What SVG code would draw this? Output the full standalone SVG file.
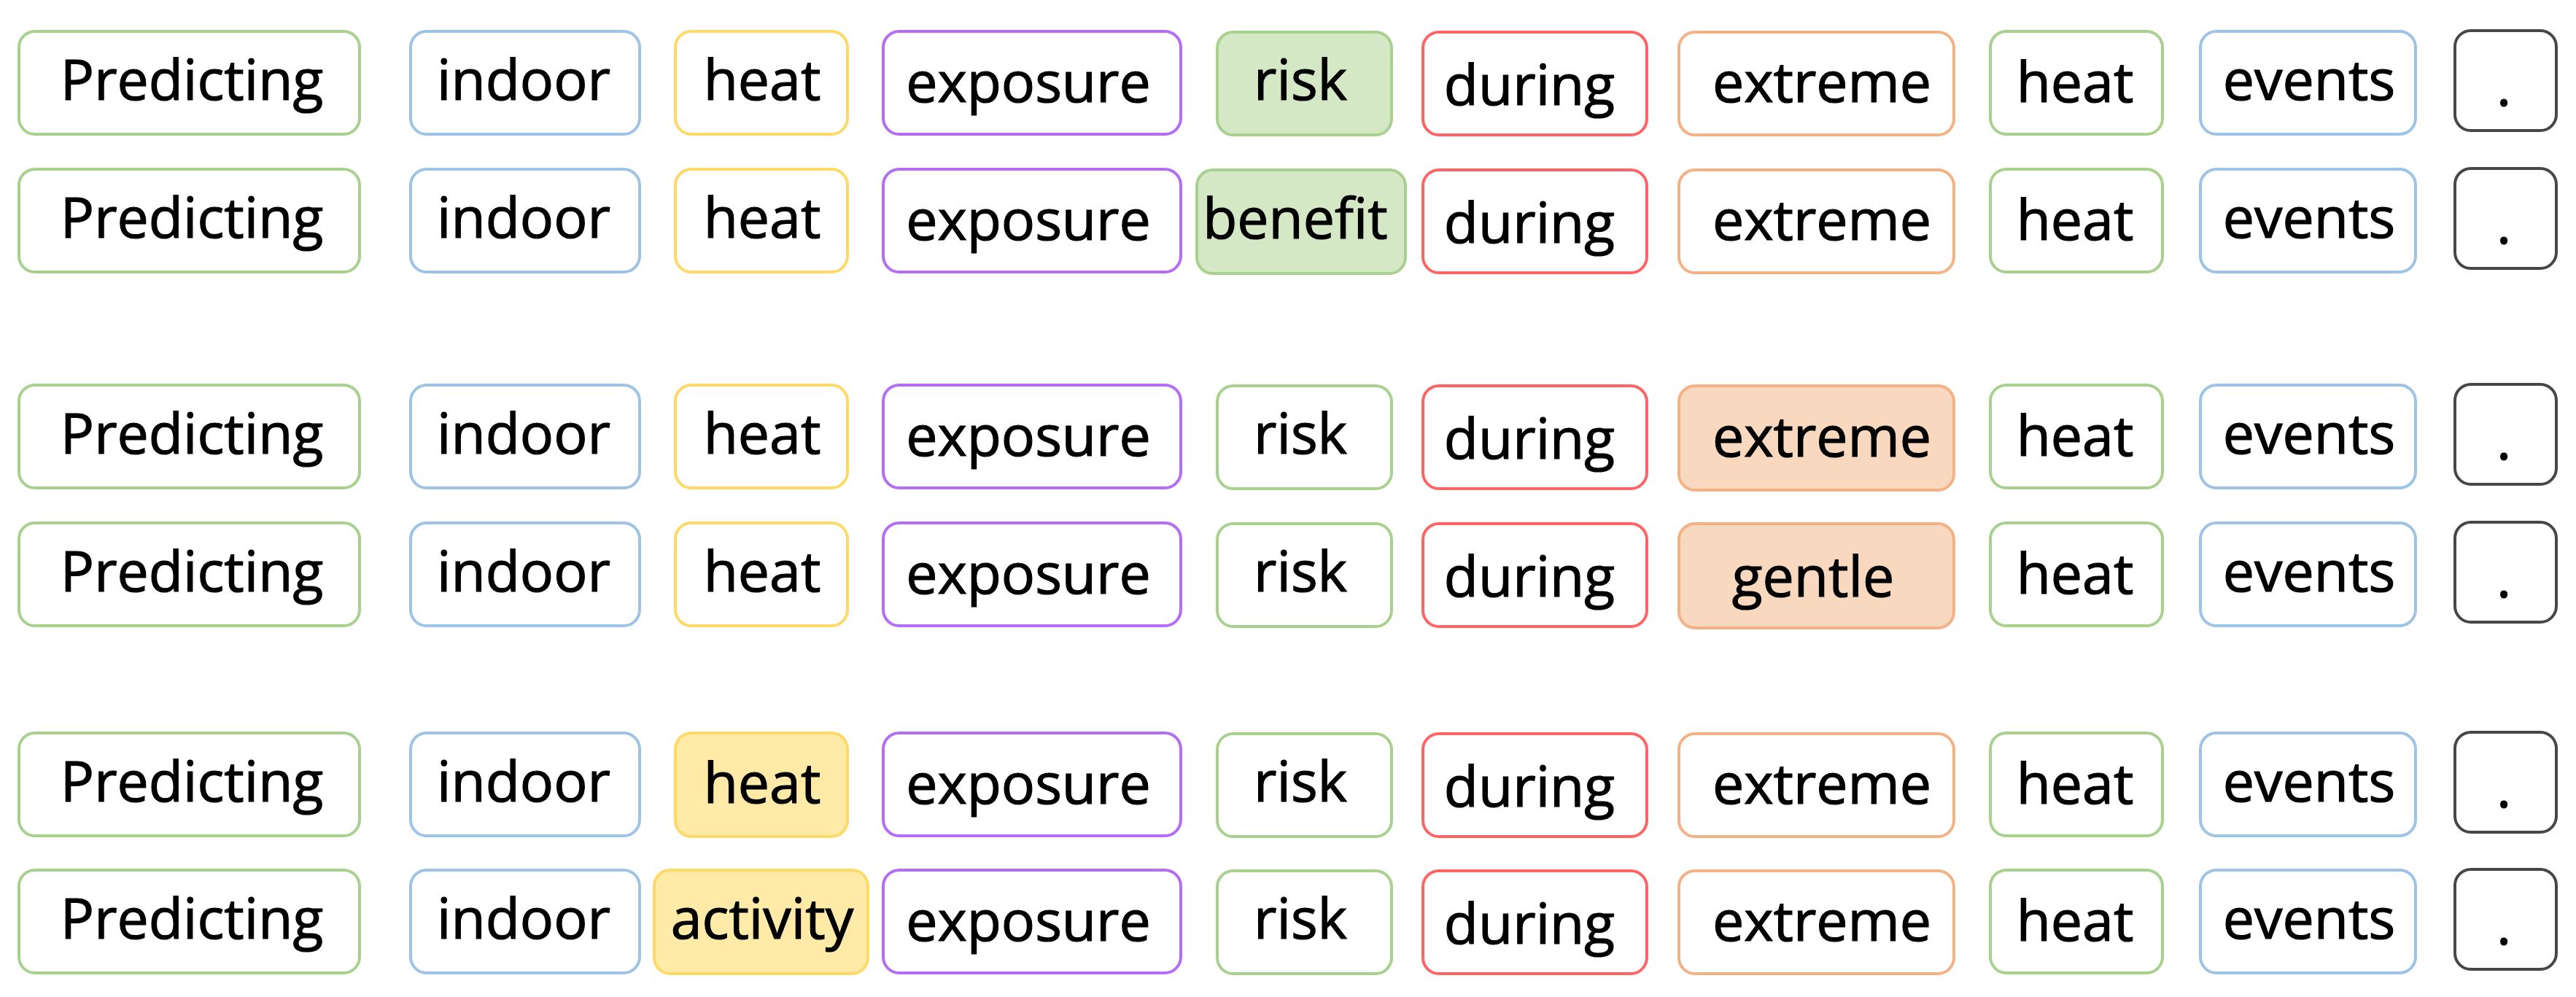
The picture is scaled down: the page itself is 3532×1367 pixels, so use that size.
<svg xmlns="http://www.w3.org/2000/svg" width="3532" height="1367" viewBox="0 0 3532 1367">
<style>
rect{stroke-width:4;fill:#fff}
.g{stroke:#A9D18E}.b{stroke:#9DC3E6}.y{stroke:#FFD966}.p{stroke:#B36DF7}.r{stroke:#FF6464}.o{stroke:#F4B183}.k{stroke:#474747}
rect.gf{fill:#D5E8C6}rect.of{fill:#F9D8C0}rect.yf{fill:#FFEAA8}
text{font-family:"Open Sans","Noto Sans","Liberation Sans",sans-serif;font-size:77px;fill:#000;stroke:#000;stroke-width:1.2;text-anchor:middle}
</style>
<rect x="0" y="0" width="3532" height="1367" style="fill:#fff;stroke:none"/>
<!-- Row 1 -->
<g id="r1-predicting"><rect class="g" x="26" y="43" width="467" height="141" rx="22"/><text x="263" y="137">Predicting</text></g>
<g id="r1-indoor"><rect class="b" x="563" y="43" width="314" height="141" rx="22"/><text x="718" y="137">indoor</text></g>
<g id="r1-heat"><rect class="y" x="926" y="43" width="236" height="141" rx="22"/><text x="1045" y="137">heat</text></g>
<g id="r1-exposure"><rect class="p" x="1211" y="43" width="408" height="141" rx="22"/><text x="1410" y="140">exposure</text></g>
<g id="r1-risk"><rect class="g gf" x="1669" y="44" width="239" height="141" rx="22"/><text x="1783" y="137">risk</text></g>
<g id="r1-during"><rect class="r" x="1951" y="44" width="307" height="141" rx="22"/><text x="2097" y="144">during</text></g>
<g id="r1-extreme"><rect class="o" x="2302" y="44" width="377" height="141" rx="22"/><text x="2498" y="140">extreme</text></g>
<g id="r1-heat2"><rect class="g" x="2729" y="43" width="236" height="141" rx="22"/><text x="2845" y="140">heat</text></g>
<g id="r1-events"><rect class="b" x="3017" y="43" width="295" height="141" rx="22"/><text x="3166" y="137">events</text></g>
<g id="r1-period"><rect class="k" x="3366" y="42" width="139" height="137" rx="22"/><text x="3433" y="145">.</text></g>
<!-- Row 2 -->
<g id="r2-predicting"><rect class="g" x="26" y="232" width="467" height="141" rx="22"/><text x="263" y="326">Predicting</text></g>
<g id="r2-indoor"><rect class="b" x="563" y="232" width="314" height="141" rx="22"/><text x="718" y="326">indoor</text></g>
<g id="r2-heat"><rect class="y" x="926" y="232" width="236" height="141" rx="22"/><text x="1045" y="326">heat</text></g>
<g id="r2-exposure"><rect class="p" x="1211" y="232" width="408" height="141" rx="22"/><text x="1410" y="329">exposure</text></g>
<g id="r2-benefit"><rect class="g gf" x="1641" y="233" width="286" height="142" rx="22"/><text x="1776" y="327">benefit</text></g>
<g id="r2-during"><rect class="r" x="1951" y="233" width="307" height="141" rx="22"/><text x="2097" y="333">during</text></g>
<g id="r2-extreme"><rect class="o" x="2302" y="233" width="377" height="141" rx="22"/><text x="2498" y="329">extreme</text></g>
<g id="r2-heat2"><rect class="g" x="2729" y="232" width="236" height="141" rx="22"/><text x="2845" y="329">heat</text></g>
<g id="r2-events"><rect class="b" x="3017" y="232" width="295" height="141" rx="22"/><text x="3166" y="326">events</text></g>
<g id="r2-period"><rect class="k" x="3366" y="231" width="139" height="137" rx="22"/><text x="3433" y="334">.</text></g>
<!-- Row 3 -->
<g id="r3-predicting"><rect class="g" x="26" y="528" width="467" height="141" rx="22"/><text x="263" y="622">Predicting</text></g>
<g id="r3-indoor"><rect class="b" x="563" y="528" width="314" height="141" rx="22"/><text x="718" y="622">indoor</text></g>
<g id="r3-heat"><rect class="y" x="926" y="528" width="236" height="141" rx="22"/><text x="1045" y="622">heat</text></g>
<g id="r3-exposure"><rect class="p" x="1211" y="528" width="408" height="141" rx="22"/><text x="1410" y="625">exposure</text></g>
<g id="r3-risk"><rect class="g" x="1669" y="529" width="239" height="141" rx="22"/><text x="1783" y="622">risk</text></g>
<g id="r3-during"><rect class="r" x="1951" y="529" width="307" height="141" rx="22"/><text x="2097" y="629">during</text></g>
<g id="r3-extreme"><rect class="o of" x="2302" y="529" width="377" height="143" rx="22"/><text x="2498" y="626">extreme</text></g>
<g id="r3-heat2"><rect class="g" x="2729" y="528" width="236" height="141" rx="22"/><text x="2845" y="625">heat</text></g>
<g id="r3-events"><rect class="b" x="3017" y="528" width="295" height="141" rx="22"/><text x="3166" y="622">events</text></g>
<g id="r3-period"><rect class="k" x="3366" y="527" width="139" height="137" rx="22"/><text x="3433" y="630">.</text></g>
<!-- Row 4 -->
<g id="r4-predicting"><rect class="g" x="26" y="717" width="467" height="141" rx="22"/><text x="263" y="811">Predicting</text></g>
<g id="r4-indoor"><rect class="b" x="563" y="717" width="314" height="141" rx="22"/><text x="718" y="811">indoor</text></g>
<g id="r4-heat"><rect class="y" x="926" y="717" width="236" height="141" rx="22"/><text x="1045" y="811">heat</text></g>
<g id="r4-exposure"><rect class="p" x="1211" y="717" width="408" height="141" rx="22"/><text x="1410" y="814">exposure</text></g>
<g id="r4-risk"><rect class="g" x="1669" y="718" width="239" height="141" rx="22"/><text x="1783" y="811">risk</text></g>
<g id="r4-during"><rect class="r" x="1951" y="718" width="307" height="141" rx="22"/><text x="2097" y="818">during</text></g>
<g id="r4-gentle"><rect class="o of" x="2302" y="718" width="377" height="143" rx="22"/><text x="2486" y="818">gentle</text></g>
<g id="r4-heat2"><rect class="g" x="2729" y="717" width="236" height="141" rx="22"/><text x="2845" y="814">heat</text></g>
<g id="r4-events"><rect class="b" x="3017" y="717" width="295" height="141" rx="22"/><text x="3166" y="811">events</text></g>
<g id="r4-period"><rect class="k" x="3366" y="716" width="139" height="137" rx="22"/><text x="3433" y="819">.</text></g>
<!-- Row 5 -->
<g id="r5-predicting"><rect class="g" x="26" y="1005" width="467" height="141" rx="22"/><text x="263" y="1099">Predicting</text></g>
<g id="r5-indoor"><rect class="b" x="563" y="1005" width="314" height="141" rx="22"/><text x="718" y="1099">indoor</text></g>
<g id="r5-heat"><rect class="y yf" x="926" y="1005" width="236" height="142" rx="22"/><text x="1045" y="1101">heat</text></g>
<g id="r5-exposure"><rect class="p" x="1211" y="1005" width="408" height="141" rx="22"/><text x="1410" y="1102">exposure</text></g>
<g id="r5-risk"><rect class="g" x="1669" y="1006" width="239" height="141" rx="22"/><text x="1783" y="1099">risk</text></g>
<g id="r5-during"><rect class="r" x="1951" y="1006" width="307" height="141" rx="22"/><text x="2097" y="1106">during</text></g>
<g id="r5-extreme"><rect class="o" x="2302" y="1006" width="377" height="141" rx="22"/><text x="2498" y="1102">extreme</text></g>
<g id="r5-heat2"><rect class="g" x="2729" y="1005" width="236" height="141" rx="22"/><text x="2845" y="1102">heat</text></g>
<g id="r5-events"><rect class="b" x="3017" y="1005" width="295" height="141" rx="22"/><text x="3166" y="1099">events</text></g>
<g id="r5-period"><rect class="k" x="3366" y="1004" width="139" height="137" rx="22"/><text x="3433" y="1107">.</text></g>
<!-- Row 6 -->
<g id="r6-predicting"><rect class="g" x="26" y="1193" width="467" height="141" rx="22"/><text x="263" y="1287">Predicting</text></g>
<g id="r6-indoor"><rect class="b" x="563" y="1193" width="314" height="141" rx="22"/><text x="718" y="1287">indoor</text></g>
<g id="r6-activity"><rect class="y yf" x="897" y="1193" width="293" height="142" rx="22"/><text x="1045" y="1287">activity</text></g>
<g id="r6-exposure"><rect class="p" x="1211" y="1193" width="408" height="141" rx="22"/><text x="1410" y="1290">exposure</text></g>
<g id="r6-risk"><rect class="g" x="1669" y="1194" width="239" height="141" rx="22"/><text x="1783" y="1287">risk</text></g>
<g id="r6-during"><rect class="r" x="1951" y="1194" width="307" height="141" rx="22"/><text x="2097" y="1294">during</text></g>
<g id="r6-extreme"><rect class="o" x="2302" y="1194" width="377" height="141" rx="22"/><text x="2498" y="1290">extreme</text></g>
<g id="r6-heat2"><rect class="g" x="2729" y="1193" width="236" height="141" rx="22"/><text x="2845" y="1290">heat</text></g>
<g id="r6-events"><rect class="b" x="3017" y="1193" width="295" height="141" rx="22"/><text x="3166" y="1287">events</text></g>
<g id="r6-period"><rect class="k" x="3366" y="1192" width="139" height="137" rx="22"/><text x="3433" y="1295">.</text></g>
</svg>
